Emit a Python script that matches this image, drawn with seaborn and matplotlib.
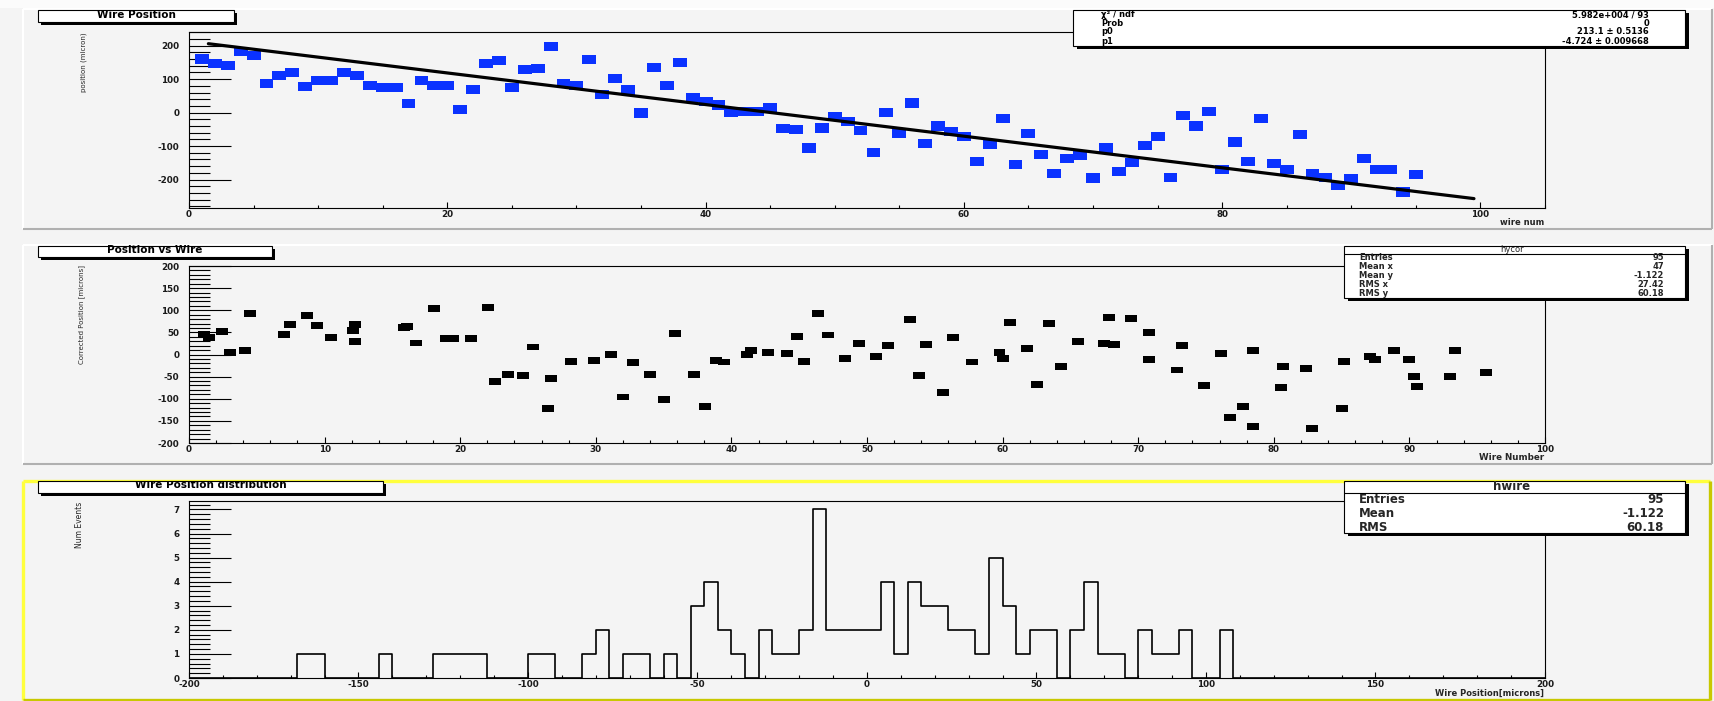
import numpy as np
import pandas as pd
import matplotlib
matplotlib.use("Agg")
import matplotlib.pyplot as plt
import seaborn as sns
from matplotlib.path import Path
from matplotlib.patches import Rectangle
from matplotlib.ticker import MultipleLocator
from matplotlib.transforms import Bbox

# ---------------- data ----------------
# Top pad: measured wire position per wire, with a straight-line fit
wire_num = list(range(1, 96))
wire_pos = [160, 147, 142, 182, 170, 88, 110, 121, 79, 95,
            95, 120, 110, 80, 76, 76, 27, 96, 82, 82,
            9, 69, 146, 155, 76, 130, 133, 197, 88, 81,
            158, 55, 102, 68, -1, 136, 82, 150, 45, 34,
            23, 1, 3, 3, 15, -47, -50, -106, -46, -11,
            -26, -53, -120, 0, -62, 29, -92, -40, -56, -72,
            -146, -96, -17, -155, -62, -125, -182, -138, -129, -195,
            -106, -177, -150, -98, -72, -194, -9, -40, 3, -169,
            -88, -146, -17, -152, -169, -65, -181, -194, -217, -197,
            -138, -169, -171, -237, -184]
fit_p0, fit_p0_err = 213.1, 0.5136
fit_p1, fit_p1_err = -4.724, 0.009668
fit_chi2_txt, fit_ndf, fit_prob = "5.982e+004", 93, 0
fit_range = [1.5, 99.5]

# Middle pad: corrected position vs wire number
cor_wire = [1.10, 1.47, 2.45, 2.99, 4.12, 4.51, 7.00, 7.43, 8.68, 9.44,
            10.44, 12.08, 12.23, 12.23, 15.88, 16.05, 16.76, 18.04, 18.95, 19.44,
            20.78, 22.06, 22.57, 23.55, 24.60, 25.34, 26.50, 26.70, 28.15, 29.85,
            31.10, 31.98, 32.73, 33.98, 35.00, 35.86, 37.27, 38.03, 38.87, 39.44,
            41.15, 41.44, 42.68, 44.08, 44.87, 45.35, 46.37, 47.13, 48.39, 49.38,
            50.65, 51.55, 53.20, 53.80, 54.34, 55.58, 56.37, 57.75, 59.77, 60.03,
            60.54, 61.77, 62.56, 63.44, 64.31, 65.58, 67.46, 67.86, 68.25, 69.50,
            70.80, 70.80, 72.86, 73.23, 74.88, 76.12, 76.77, 77.76, 78.45, 78.50,
            80.53, 80.65, 82.39, 82.80, 85.06, 85.19, 87.08, 87.45, 88.84, 89.97,
            90.34, 90.59, 92.98, 93.35, 95.62]
cor_pos = [46, 39, 51, 5, 10, 93, 45, 68, 88, 65,
           38, 55, 67, 30, 61, 63, 26, 104, 36, 36,
           36, 106, -62, -45, -48, 17, -121, -54, -16, -14,
           1, -96, -18, -46, -102, 47, -45, -117, -14, -17,
           0, 10, 5, 2, 40, -15, 92, 44, -10, 25,
           -5, 20, 80, -47, 23, -85, 38, -17, 4, -8,
           72, 14, -68, 70, -28, 30, 25, 84, 23, 82,
           50, -12, -35, 20, -70, 2, -143, -117, -162, 10,
           -74, -28, -32, -167, -123, -15, -5, -12, 8, -12,
           -50, -72, -50, 10, -40]
cor_stats = [("Entries", "95"), ("Mean x", "47"), ("Mean y", "-1.122"),
             ("RMS x", "27.42"), ("RMS y", "60.18")]

# Bottom pad: distribution of corrected positions (4 micron bins)
hist_bin_low = [-168, -164, -144, -128, -124, -120, -116, -100, -96, -84,
                -80, -72, -68, -60, -52, -48, -44, -40, -32, -28,
                -24, -20, -16, -12, -8, -4, 0, 4, 8, 12,
                16, 20, 24, 28, 32, 36, 40, 44, 48, 52,
                60, 64, 68, 72, 80, 84, 88, 92, 104]
hist_counts = [1, 1, 1, 1, 1, 1, 1, 1, 1, 1,
               2, 1, 1, 1, 3, 4, 2, 1, 2, 1,
               1, 2, 7, 2, 2, 2, 2, 4, 1, 4,
               3, 3, 2, 2, 1, 5, 3, 1, 2, 2,
               2, 4, 1, 1, 2, 1, 1, 2, 2]
hist_width = 4
hist_stats = [("Entries", "95"), ("Mean", "-1.122"), ("RMS", "60.18")]

# ---------------- style ----------------
sns.set_style("ticks")
plt.rcParams["font.family"] = ["DejaVu Sans"]
plt.rcParams["font.weight"] = "bold"
plt.rcParams["axes.unicode_minus"] = False

CANVAS = "#f4f4f4"
W, H = 1715, 701
fig = plt.figure(figsize=(W / 100, H / 100), dpi=100)
fig.patch.set_facecolor(CANVAS)


def px_axes(x0, y0, x1, y1, label):
    return fig.add_axes([x0 / W, 1 - y1 / H, (x1 - x0) / W, (y1 - y0) / H], label=label)


# background layer: pads with bevelled borders
bg = px_axes(0, 0, W, H, "background")
bg.set_xlim(0, W)
bg.set_ylim(H, 0)
bg.axis("off")
bg.set_zorder(-5)
bg.add_patch(Rectangle((0, 0), W, 8, fc="#fbfbfb", ec="none"))


def pad(x0, y0, x1, y1, light, dark, lw):
    bg.add_patch(Rectangle((x0, y0), x1 - x0, y1 - y0, fc=CANVAS, ec="none"))
    bg.plot([x0, x1], [y0, y0], color=light, lw=lw, solid_capstyle="butt")
    bg.plot([x0, x0], [y0, y1], color=light, lw=lw, solid_capstyle="butt")
    bg.plot([x0, x1], [y1, y1], color=dark, lw=lw, solid_capstyle="butt")
    bg.plot([x1, x1], [y0, y1], color=dark, lw=lw, solid_capstyle="butt")


pad(23, 9, 1712, 229, "white", "#b0b0b0", 1.5)
pad(23, 245, 1712, 464, "white", "#b0b0b0", 1.5)
pad(23, 481, 1710, 700, "#ffff3c", "#c8c800", 2.4)

# data axes
ax1 = px_axes(189, 32, 1545, 208, "wirepos")
ax2 = px_axes(189, 266, 1545, 443, "poswire")
ax3 = px_axes(189, 501, 1545, 678, "hist")


def rect_marker(aspect):
    return Path([(-1, -aspect), (1, -aspect), (1, aspect), (-1, aspect), (-1, -aspect)],
                [Path.MOVETO, Path.LINETO, Path.LINETO, Path.LINETO, Path.CLOSEPOLY])


def style_axes(ax, xmaj, xmin, ymaj, ymin):
    ax.set_facecolor(CANVAS)
    for sp in ax.spines.values():
        sp.set_visible(True)
        sp.set_linewidth(0.8)
        sp.set_color("black")
    ax.xaxis.set_major_locator(MultipleLocator(xmaj))
    ax.xaxis.set_minor_locator(MultipleLocator(xmin))
    ax.yaxis.set_major_locator(MultipleLocator(ymaj))
    ax.yaxis.set_minor_locator(MultipleLocator(ymin))
    ax.tick_params(axis="both", which="both", direction="in", top=False, right=False,
                   color="black", width=0.8, labelcolor="#1a1a1a", labelsize=6.3)
    ax.tick_params(axis="y", which="major", length=30, pad=7)
    ax.tick_params(axis="y", which="minor", length=15)
    ax.tick_params(axis="x", which="major", length=4.3, pad=1.5)
    ax.tick_params(axis="x", which="minor", length=2.3)
    ax.set_xlabel("")
    ax.set_ylabel("")


# top: wire position with linear fit
sns.scatterplot(x=wire_num, y=wire_pos, marker=rect_marker(0.665), s=100,
                color="#0a32ff", linewidth=0, edgecolor="none", ax=ax1, zorder=3)
fit_x = np.array(fit_range)
sns.lineplot(x=fit_x, y=fit_p0 + fit_p1 * fit_x, color="black", linewidth=2.3,
             ax=ax1, zorder=4)
ax1.set_xlim(0, 105)
ax1.set_ylim(-285, 241)
style_axes(ax1, 20, 5, 100, 20)

# middle: corrected position
sns.scatterplot(x=cor_wire, y=cor_pos, marker=rect_marker(0.58), s=74,
                color="black", linewidth=0, edgecolor="none", ax=ax2, zorder=3)
ax2.set_xlim(0, 100)
ax2.set_ylim(-200, 200)
style_axes(ax2, 10, 2, 50, 10)

# bottom: histogram of corrected positions
hist_df = pd.DataFrame({"center": np.array(hist_bin_low, dtype=float) + hist_width / 2,
                        "count": np.array(hist_counts, dtype=float)})
sns.histplot(data=hist_df, x="center", weights="count", binwidth=hist_width,
             binrange=(-200, 200), element="step", fill=False, color="black",
             linewidth=1.2, ax=ax3)
ax3.set_xlim(-200, 200)
ax3.set_ylim(0, 7.35)
style_axes(ax3, 50, 10, 1, 0.2)

# overlay layer: title boxes, stat boxes and axis titles
ov = px_axes(0, 0, W, H, "overlay")
ov.set_xlim(0, W)
ov.set_ylim(H, 0)
ov.axis("off")
ov.patch.set_visible(False)
ov.set_zorder(10)


def clipped(t, y_top):
    t.set_clip_box(Bbox([[0, 0], [W, H - y_top]]))
    t.set_clip_on(True)
    return t


def framed_box(x0, y0, x1, y1, sx=4, sy=3):
    ov.add_patch(Rectangle((x0 + sx, y0 + sy), x1 - x0, y1 - y0, fc="black", ec="none"))
    ov.add_patch(Rectangle((x0, y0), x1 - x0, y1 - y0, fc="white", ec="black", lw=0.8))


def title_box(x0, y0, x1, y1, text, ty, clip_top):
    framed_box(x0, y0, x1, y1, sx=3, sy=3)
    clipped(ov.text((x0 + x1) / 2, ty, text, ha="center", va="center",
                    fontsize=7.5, fontweight="bold", color="black"), clip_top)


title_box(38, 10, 234, 22, "Wire Position", 15.5, 10)
title_box(38, 245.5, 272, 257, "Position vs Wire", 250, 245)
title_box(38, 481, 383, 493, "Wire Position distribution", 484.5, 481)

# fit results box
framed_box(1073, 10, 1685, 45.5)
fit_rows = [("χ² / ndf", f"{fit_chi2_txt} / {fit_ndf}"),
            ("Prob", f"{fit_prob}"),
            ("p0", f"{fit_p0} ± {fit_p0_err}"),
            ("p1", f"{fit_p1} ± {fit_p1_err}")]
for (lab, val), y in zip(fit_rows, [14.5, 23, 32, 41]):
    clipped(ov.text(1101, y, lab, ha="left", va="center", fontsize=6, color="black"), 10)
    clipped(ov.text(1649, y, val, ha="right", va="center", fontsize=6, color="black"), 10)

# hycor statistics box
framed_box(1344, 245.5, 1685, 298)
ov.text(1512, 249.5, "hycor", ha="center", va="center", fontsize=6, fontweight="normal")
ov.plot([1344, 1685], [254, 254], color="black", lw=0.8)
for (lab, val), y in zip(cor_stats, [258, 266.8, 275.6, 284.4, 293.4]):
    ov.text(1359, y, lab, ha="left", va="center", fontsize=6)
    ov.text(1664, y, val, ha="right", va="center", fontsize=6)

# hwire statistics box
framed_box(1344, 481, 1685, 533)
clipped(ov.text(1512, 486.5, "hwire", ha="center", va="center", fontsize=8.5), 481)
ov.plot([1344, 1685], [493.3, 493.3], color="black", lw=0.8)
for (lab, val), y in zip(hist_stats, [499.5, 513.7, 527.7]):
    ov.text(1359, y, lab, ha="left", va="center", fontsize=8.5)
    ov.text(1664, y, val, ha="right", va="center", fontsize=8.5)

# axis titles
ov.text(84, 32, "position (micron)", rotation=90, ha="center", va="top",
        fontsize=5, fontweight="normal")
ov.text(82, 265, "Corrected Position [microns]", rotation=90, ha="center", va="top",
        fontsize=5, fontweight="normal")
ov.text(80, 502, "Num Events", rotation=90, ha="center", va="top",
        fontsize=5.5, fontweight="normal")
ov.text(1544, 222.5, "wire num", ha="right", va="center", fontsize=6)
ov.text(1544, 458, "Wire Number", ha="right", va="center", fontsize=6.3)
ov.text(1544, 693, "Wire Position[microns]", ha="right", va="center", fontsize=6)

fig.savefig("out.png", dpi=100, facecolor=fig.get_facecolor())
